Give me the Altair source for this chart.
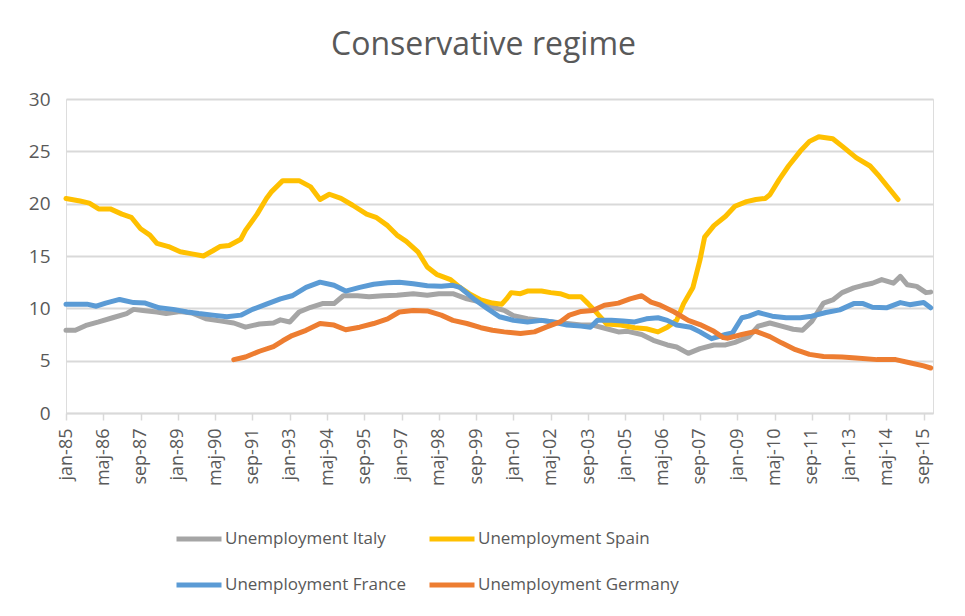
import altair as alt
import pandas as pd

# ---- data (month index 0 = jan-85) ----
tick_labels = ["jan-85", "maj-86", "sep-87", "jan-89", "maj-90", "sep-91", "jan-93", "maj-94",
               "sep-95", "jan-97", "maj-98", "sep-99", "jan-01", "maj-02", "sep-03", "jan-05",
               "maj-06", "sep-07", "jan-09", "maj-10", "sep-11", "jan-13", "maj-14", "sep-15"]
tick_months = [16 * i for i in range(len(tick_labels))]

series_names = ["Unemployment Italy", "Unemployment Spain", "Unemployment France", "Unemployment Germany"]
series_colors = ["#A5A5A5", "#FFC000", "#5B9BD5", "#ED7D31"]

italy = [(0, 7.9), (4, 7.9), (9, 8.4), (14, 8.7), (20, 9.1), (26, 9.5), (29, 9.9), (33, 9.8), (39, 9.65),
         (43, 9.5), (49, 9.7), (54, 9.55), (60, 9.0), (66, 8.8), (72, 8.6), (77, 8.2), (83, 8.5), (89, 8.6),
         (92, 8.9), (96, 8.7), (100, 9.65), (105, 10.1), (110, 10.45), (115, 10.45), (119, 11.2), (125, 11.2),
         (130, 11.1), (136, 11.2), (142, 11.25), (149, 11.4), (155, 11.25), (160, 11.4), (166, 11.4), (172, 10.9),
         (178, 10.6), (183, 10.1), (188, 9.8), (192, 9.3), (198, 9.0), (204, 8.85), (209, 8.7), (215, 8.55),
         (221, 8.4), (226, 8.4), (232, 8.05), (237, 7.75), (241, 7.8), (247, 7.5), (252, 6.95), (258, 6.5),
         (262, 6.3), (267, 5.7), (272, 6.15), (278, 6.5), (283, 6.5), (287, 6.75), (293, 7.3), (297, 8.3),
         (302, 8.6), (307, 8.3), (312, 8.0), (316, 7.9), (320, 8.75), (325, 10.5), (329, 10.8), (333, 11.5),
         (338, 11.95), (342, 12.2), (346, 12.4), (350, 12.75), (355, 12.4), (358, 13.05), (361, 12.25),
         (365, 12.1), (369, 11.5), (371, 11.55)]

spain = [(0, 20.5), (6, 20.25), (10, 20.05), (14, 19.5), (19, 19.5), (24, 19.0), (28, 18.7), (32, 17.6),
         (36, 17.0), (39, 16.2), (44, 15.9), (49, 15.4), (54, 15.2), (59, 15.0), (63, 15.5), (66, 15.9),
         (70, 16.0), (75, 16.6), (77, 17.45), (82, 19.0), (86, 20.5), (88, 21.1), (93, 22.2), (100, 22.2),
         (105, 21.6), (109, 20.4), (113, 20.9), (118, 20.5), (123, 19.85), (129, 19.0), (133, 18.7), (138, 17.9),
         (142, 17.0), (146, 16.4), (151, 15.4), (155, 13.95), (159, 13.25), (165, 12.75), (169, 12.0),
         (173, 11.4), (178, 10.8), (183, 10.5), (187, 10.4), (189, 10.9), (191, 11.5), (195, 11.4),
         (198, 11.65), (204, 11.65), (208, 11.5), (212, 11.4), (216, 11.1), (221, 11.1), (224, 10.45),
         (228, 9.5), (232, 8.5), (238, 8.4), (244, 8.15), (249, 8.05), (254, 7.75), (258, 8.2), (262, 8.85),
         (265, 10.45), (269, 12.0), (272, 14.6), (274, 16.8), (278, 17.9), (283, 18.8), (287, 19.75),
         (292, 20.2), (296, 20.4), (300, 20.5), (302, 20.85), (306, 22.3), (310, 23.6), (315, 25.0),
         (319, 25.95), (323, 26.4), (329, 26.2), (333, 25.5), (339, 24.4), (345, 23.6), (349, 22.6),
         (353, 21.5), (357, 20.4)]

france = [(0, 10.4), (9, 10.4), (13, 10.2), (17, 10.5), (23, 10.85), (29, 10.55), (34, 10.5), (40, 10.05),
          (46, 9.9), (52, 9.65), (57, 9.5), (63, 9.35), (69, 9.2), (75, 9.35), (80, 9.9), (86, 10.4),
          (92, 10.9), (97, 11.2), (103, 12.0), (109, 12.5), (115, 12.2), (120, 11.65), (126, 12.0),
          (132, 12.3), (138, 12.45), (143, 12.5), (149, 12.35), (155, 12.15), (161, 12.1), (166, 12.2),
          (169, 12.0), (175, 10.9), (181, 9.95), (186, 9.2), (192, 8.85), (198, 8.7), (204, 8.85), (209, 8.7),
          (215, 8.4), (221, 8.3), (225, 8.2), (228, 8.85), (234, 8.85), (239, 8.8), (244, 8.7), (249, 9.0),
          (254, 9.1), (258, 8.85), (262, 8.4), (268, 8.2), (272, 7.75), (277, 7.1), (283, 7.5), (286, 7.65),
          (290, 9.1), (293, 9.25), (297, 9.6), (303, 9.25), (309, 9.1), (315, 9.1), (320, 9.25), (326, 9.6),
          (332, 9.85), (338, 10.45), (342, 10.45), (346, 10.1), (352, 10.05), (358, 10.55), (362, 10.35),
          (368, 10.55), (371, 10.05)]

germany = [(72, 5.1), (77, 5.35), (83, 5.9), (89, 6.35), (93, 6.9), (97, 7.4), (103, 7.9), (109, 8.55),
           (115, 8.4), (120, 7.95), (126, 8.2), (132, 8.55), (138, 9.0), (143, 9.65), (149, 9.8), (155, 9.75),
           (161, 9.35), (166, 8.85), (172, 8.55), (178, 8.15), (183, 7.9), (188, 7.75), (195, 7.6), (201, 7.75),
           (206, 8.2), (212, 8.7), (216, 9.35), (221, 9.7), (226, 9.8), (231, 10.3), (237, 10.5), (242, 10.9),
           (247, 11.2), (251, 10.6), (255, 10.3), (261, 9.65), (267, 8.85), (272, 8.45), (278, 7.8), (282, 7.2),
           (284, 7.15), (290, 7.5), (296, 7.8), (302, 7.3), (307, 6.7), (313, 6.05), (319, 5.6), (325, 5.4),
           (333, 5.35), (339, 5.25), (348, 5.1), (356, 5.1), (362, 4.8), (368, 4.5), (371, 4.3)]

rows = []
for name, pts in zip(series_names, [italy, spain, france, germany]):
    for m, v in pts:
        rows.append({"series": name, "m": m, "v": v})
df = pd.DataFrame(rows)

TXT = "#595959"
GRID = "#D9D9D9"
FONT = "Open Sans"

label_array = "[" + ",".join("'" + s + "'" for s in tick_labels) + "]"

chart = alt.Chart(df).mark_line(strokeWidth=5, strokeJoin="round", strokeCap="round").encode(
    x=alt.X("m:Q",
            scale=alt.Scale(domain=[0, 372], nice=False, zero=False),
            axis=alt.Axis(values=tick_months, labelExpr=label_array + "[round(datum.value/16)]",
                          title=None, grid=False, domainColor=GRID, domainWidth=1.5,
                          tickColor=GRID, tickWidth=1.5, tickSize=7, labelAngle=-90,
                          labelPadding=8, labelFontSize=18, labelColor=TXT, labelFont=FONT,
                          labelOverlap=False, labelBound=False, labelFlush=False)),
    y=alt.Y("v:Q",
            scale=alt.Scale(domain=[0, 30], nice=False),
            axis=alt.Axis(values=[0, 5, 10, 15, 20, 25, 30], title=None, domain=False, ticks=False,
                          gridColor=GRID, gridWidth=2, labelPadding=16, labelFontSize=19,
                          labelColor=TXT, labelFont=FONT)),
    color=alt.Color("series:N",
                    scale=alt.Scale(domain=series_names, range=series_colors),
                    sort=series_names,
                    legend=alt.Legend(title=None, orient="none", legendX=108, legendY=415,
                                      direction="horizontal",
                                      columns=2, columnPadding=12, rowPadding=11,
                                      symbolType="stroke", symbolStrokeWidth=5, symbolSize=2025,
                                      labelFontSize=17, labelColor=TXT, labelFont=FONT,
                                      labelOffset=1, labelLimit=400)),
).properties(
    width=867, height=314,
    title=alt.TitleParams("Conservative regime", fontSize=32, font=FONT, color=TXT,
                          fontWeight="normal", anchor="middle", offset=28, dx=-16),
    autosize=alt.AutoSizeParams(type="none"),
    padding={"left": 58, "top": 91, "right": 20, "bottom": 190},
).configure_view(stroke=None).configure(background="white")

chart.save("out.html", embed_options={"renderer": "svg", "actions": False})
